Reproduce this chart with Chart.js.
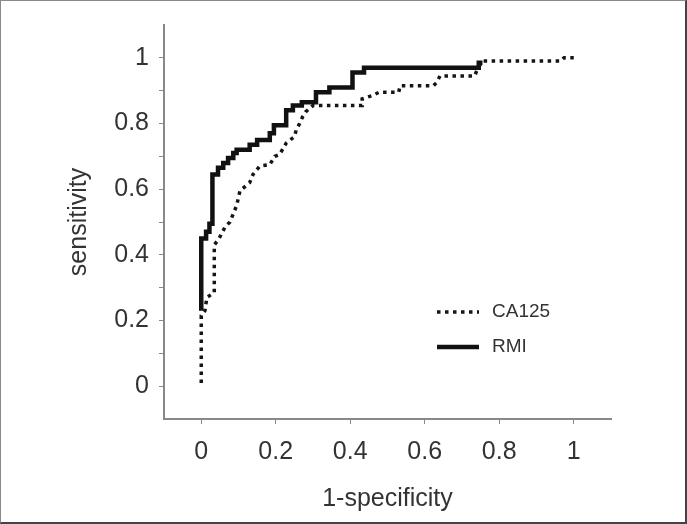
<!DOCTYPE html>
<html>
<head>
<meta charset="utf-8">
<script src="https://cdn.jsdelivr.net/npm/chart.js@4.4.0/dist/chart.umd.min.js"></script>
<style>
body{margin:0;background:#fff}
#wrap{position:relative;width:687px;height:524px}
#frame{position:absolute;left:0;top:0;width:687px;height:524px;box-sizing:border-box;border-left:1px solid #8a8a8a;border-top:1px solid #8a8a8a;border-right:2px solid #444;border-bottom:2px solid #444;pointer-events:none}
</style>
</head>
<body>
<div id="wrap"><canvas id="roc" width="687" height="524"></canvas><div id="frame"></div></div>
<script>
const ctx = document.getElementById('roc');

// valores (1-specificity, sensitivity)
const caX = [0, 0, 0.01, 0.015, 0.035, 0.035, 0.048, 0.064, 0.077, 0.095, 0.104, 0.13, 0.139, 0.157, 0.184, 0.197, 0.21, 0.228, 0.25, 0.255, 0.264, 0.272, 0.28, 0.30, 0.432, 0.432, 0.459, 0.477, 0.53, 0.534, 0.623, 0.632, 0.641, 0.734, 0.743, 0.756, 0.965, 0.974, 1.0];
const caY = [0.01, 0.215, 0.23, 0.27, 0.285, 0.43, 0.45, 0.485, 0.50, 0.55, 0.595, 0.62, 0.645, 0.67, 0.675, 0.70, 0.705, 0.74, 0.76, 0.78, 0.80, 0.82, 0.835, 0.855, 0.855, 0.875, 0.885, 0.895, 0.895, 0.915, 0.915, 0.925, 0.945, 0.945, 0.97, 0.99, 0.99, 1.0, 1.0];

const rmiX = [0, 0, 0.013, 0.013, 0.022, 0.022, 0.03, 0.03, 0.045, 0.045, 0.059, 0.059, 0.072, 0.072, 0.086, 0.086, 0.095, 0.095, 0.13, 0.13, 0.15, 0.15, 0.184, 0.184, 0.195, 0.195, 0.228, 0.228, 0.246, 0.246, 0.27, 0.27, 0.308, 0.308, 0.344, 0.344, 0.406, 0.406, 0.437, 0.437, 0.745, 0.745, 0.755];
const rmiY = [0.23, 0.45, 0.45, 0.47, 0.47, 0.495, 0.495, 0.645, 0.645, 0.665, 0.665, 0.68, 0.68, 0.695, 0.695, 0.71, 0.71, 0.72, 0.72, 0.735, 0.735, 0.75, 0.75, 0.77, 0.77, 0.795, 0.795, 0.84, 0.84, 0.855, 0.855, 0.865, 0.865, 0.895, 0.895, 0.91, 0.91, 0.955, 0.955, 0.97, 0.97, 0.985, 0.985];

const xTicks = [0, 0.2, 0.4, 0.6, 0.8, 1];
const yTicks = [0, 0.1, 0.2, 0.3, 0.4, 0.5, 0.6, 0.7, 0.8, 0.9, 1];
const yLabels = [0, 0.2, 0.4, 0.6, 0.8, 1];

function pontos(xs, ys) {
  return xs.map((x, i) => ({ x: x, y: ys[i] }));
}

const legendaDentro = {
  id: 'legendaDentro',
  afterDatasetsDraw(chart) {
    const c = chart.ctx;
    chart.data.datasets.forEach((ds, i) => {
      const y = 312 + i * 35;
      c.save();
      c.strokeStyle = ds.borderColor;
      c.lineWidth = ds.borderWidth;
      c.setLineDash(ds.borderDash || []);
      c.beginPath();
      c.moveTo(437, y);
      c.lineTo(479, y);
      c.stroke();
      c.setLineDash([]);
      c.fillStyle = '#333';
      c.font = '19px "Liberation Sans"';
      c.textBaseline = 'middle';
      c.fillText(ds.label, 492, y);
      c.restore();
    });
  }
};

const fonte = { family: '"Liberation Sans", Arial, sans-serif', size: 25 };

new Chart(ctx, {
  type: 'scatter',
  data: {
    datasets: [{
      label: 'CA125',
      data: pontos(caX, caY),
      showLine: true,
      borderColor: '#151515',
      borderWidth: 3.5,
      borderDash: [3.5, 4.5],
      pointRadius: 0,
      tension: 0
    }, {
      label: 'RMI',
      data: pontos(rmiX, rmiY),
      showLine: true,
      borderColor: '#111',
      borderWidth: 4.5,
      pointRadius: 0,
      tension: 0
    }]
  },
  options: {
    responsive: false,
    animation: false,
    devicePixelRatio: 1,
    layout: { padding: { top: 22, right: 76, bottom: 0, left: 0 } },
    plugins: { legend: { display: false }, tooltip: { enabled: false } },
    scales: {
      x: {
        type: 'linear',
        min: -0.1,
        max: 1.1,
        afterBuildTicks: s => { s.ticks = xTicks.map(v => ({ value: v })); },
        afterFit: s => { s.height = 105; },
        grid: { drawOnChartArea: false, color: '#888', tickLength: 5 },
        border: { display: true, color: '#888', width: 2 },
        ticks: { color: '#333', font: fonte, padding: 13, maxRotation: 0,
          callback: v => String(Math.round(v * 10) / 10) },
        title: { display: true, text: '1-specificity', color: '#333',
          font: { family: fonte.family, size: 25 }, padding: { top: 0, bottom: 10 } }
      },
      y: {
        type: 'linear',
        min: -0.1,
        max: 1.1,
        afterBuildTicks: s => { s.ticks = yTicks.map(v => ({ value: v })); },
        afterFit: s => { s.width = 164; },
        grid: { drawOnChartArea: false, color: '#888', tickLength: 5 },
        border: { display: true, color: '#888', width: 2 },
        ticks: { color: '#333', font: fonte, padding: 10,
          callback: v => {
            const r = Math.round(v * 10) / 10;
            return yLabels.includes(r) ? String(r) : '';
          } },
        title: { display: true, text: 'sensitivity', color: '#333',
          font: { family: fonte.family, size: 25 }, padding: { top: 64, bottom: 0 } }
      }
    }
  },
  plugins: [legendaDentro]
});
</script>
</body>
</html>
